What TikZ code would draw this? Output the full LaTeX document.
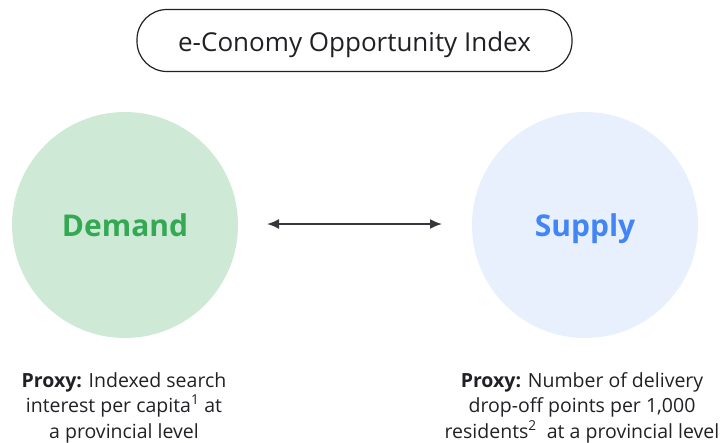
\documentclass[tikz,border=0pt]{standalone}
\usepackage{fontspec}
\setmainfont{Open Sans}
\usetikzlibrary{arrows.meta}
\definecolor{dgreen}{HTML}{34A853}
\definecolor{lgreen}{HTML}{CEEAD6}
\definecolor{dblue}{HTML}{4285F4}
\definecolor{lblue}{HTML}{E8F0FE}
\definecolor{txt}{HTML}{202124}
\begin{document}
\begin{tikzpicture}[x=1pt,y=-1pt,
  pill/.style={draw=txt,line width=1.2pt,rounded corners=30pt,minimum width=435pt,minimum height=62pt,inner sep=0pt,font=\fontsize{26}{30}\selectfont,text=txt,text height=22pt,text depth=0pt},
  bigcirc/.style={circle,minimum size=226pt,inner sep=0pt,font=\bfseries\fontsize{30}{34}\selectfont,text height=22pt,text depth=0pt},
  proxy/.style={align=center,text=txt,font=\fontsize{19.5}{25.5}\selectfont,inner sep=0pt},
  conn/.style={draw=txt!90,line width=1.8pt,{Latex[length=12pt,width=10pt]}-{Latex[length=12pt,width=10pt]}}]
\useasboundingbox (0,0) rectangle (728,442);
\node[pill] (title) at (354.5,40.5) {e-Conomy Opportunity Index};
\node[bigcirc,fill=lgreen,text=dgreen] (demand) at (125,225) {Demand};
\node[bigcirc,fill=lblue,text=dblue] (supply) at (585,225) {Supply};
\coordinate (al) at (267,224);
\coordinate (ar) at (442,224);
\draw[conn] (al) -- (ar);
\node[proxy,anchor=north] (dtext) at (124,372) {\textbf{Proxy:} Indexed search\\interest per capita\textsuperscript{1} at\\a provincial level};
\node[proxy,anchor=north] (stext) at (582,372) {\textbf{Proxy:} Number of delivery\\drop-off points per 1,000\\residents\textsuperscript{2}\ \ at a provincial level};
\end{tikzpicture}
\end{document}
